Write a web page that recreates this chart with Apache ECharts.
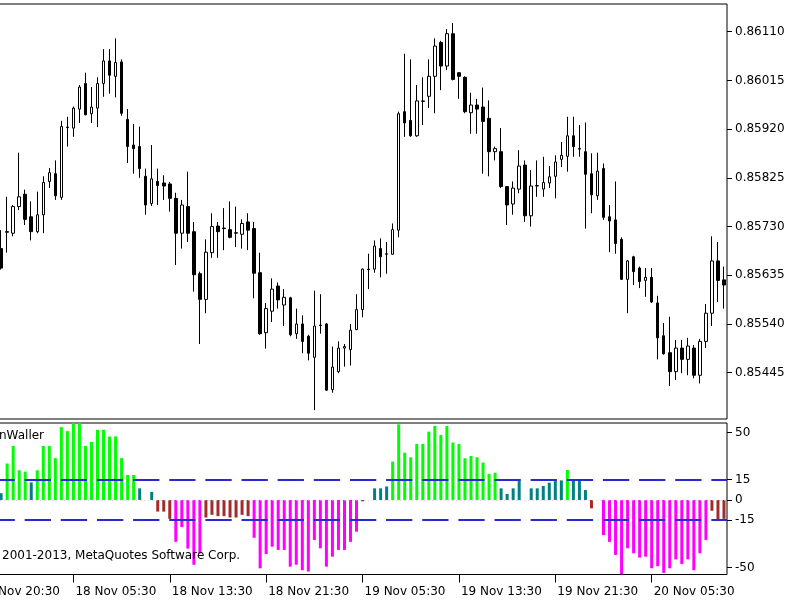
<!DOCTYPE html>
<html><head><meta charset="utf-8">
<script src="https://cdn.jsdelivr.net/npm/echarts@6/dist/echarts.min.js"></script>
<style>html,body{margin:0;padding:0;background:#fff}#c{width:800px;height:600px}</style>
</head><body><div id="c"></div>
<script>
// ---------- DATA ----------
const leadLabels = ['17 Nov 20:30','17 Nov 21:00','17 Nov 22:30','17 Nov 23:00'];
const firstBarMinutes = 23*60 + 30;   // 17 Nov 23:30, M30 bars
const barCount = 121;

const opens = [0.85687,0.85720,0.85717,0.85769,0.85793,0.85749,0.85720,0.85753,0.85818,0.85833,
0.85787,0.85924,0.85922,0.85959,0.86009,0.85950,0.85961,0.86009,0.86053,0.86023,
0.86051,0.85939,0.85889,0.85886,0.85828,0.85775,0.85818,0.85815,0.85813,0.85785,
0.85717,0.85769,0.85720,0.85638,0.85588,0.85679,0.85731,0.85727,0.85724,0.85717,
0.85715,0.85739,0.85726,0.85640,0.85523,0.85565,0.85614,0.85577,0.85591,0.85521,
0.85540,0.85516,0.85475,0.85538,0.85540,0.85412,0.85447,0.85493,0.85490,0.85529,
0.85568,0.85647,0.85647,0.85687,0.85676,0.85676,0.85723,0.85954,0.85937,0.85907,
0.85974,0.85984,0.86023,0.86089,0.86043,0.86106,0.86030,0.86021,0.85952,0.85967,
0.85963,0.85941,0.85876,0.85876,0.85808,0.85774,0.85803,0.85850,0.85751,0.85809,
0.85803,0.85815,0.85828,0.85861,0.85867,0.85907,0.85882,0.85876,0.85833,0.85790,
0.85843,0.85749,0.85743,0.85705,0.85627,0.85671,0.85649,0.85625,0.85631,0.85581,
0.85517,0.85484,0.85447,0.85493,0.85471,0.85493,0.85440,0.85506,0.85561,0.85663,0.85626];

const closes = [0.85649,0.85719,0.85769,0.85788,0.85744,0.85720,0.85753,0.85816,0.85835,0.85790,
0.85925,0.85923,0.85961,0.86002,0.85948,0.85963,0.86009,0.86053,0.86025,0.86050,
0.85951,0.85886,0.85882,0.85843,0.85772,0.85823,0.85810,0.85809,0.85785,0.85717,
0.85772,0.85717,0.85636,0.85588,0.85680,0.85730,0.85720,0.85726,0.85709,0.85718,
0.85736,0.85723,0.85639,0.85521,0.85570,0.85608,0.85587,0.85592,0.85519,0.85540,
0.85506,0.85483,0.85536,0.85537,0.85411,0.85456,0.85493,0.85496,0.85528,0.85568,
0.85647,0.85646,0.85692,0.85671,0.85677,0.85724,0.85950,0.85932,0.85907,0.85975,
0.85975,0.86023,0.86082,0.86043,0.86106,0.86017,0.86023,0.85954,0.85967,0.85959,
0.85935,0.85876,0.85882,0.85808,0.85772,0.85805,0.85848,0.85751,0.85809,0.85810,
0.85816,0.85827,0.85856,0.85869,0.85907,0.85886,0.85881,0.85832,0.85792,0.85838,
0.85748,0.85741,0.85697,0.85627,0.85663,0.85642,0.85623,0.85631,0.85583,0.85513,
0.85482,0.85447,0.85493,0.85471,0.85497,0.85440,0.85506,0.85561,0.85663,0.85625,0.85616];

const lows = [0.85646,0.85679,0.85711,0.85762,0.85733,0.85703,0.85717,0.85717,0.85805,0.85782,
0.85782,0.85886,0.85905,0.85932,0.85947,0.85932,0.85924,0.85983,0.85989,0.85982,
0.85946,0.85854,0.85833,0.85825,0.85753,0.85770,0.85772,0.85782,0.85759,0.85655,
0.85687,0.85700,0.85603,0.85501,0.85561,0.85669,0.85669,0.85684,0.85707,0.85690,
0.85687,0.85684,0.85590,0.85519,0.85492,0.85544,0.85570,0.85536,0.85516,0.85511,
0.85483,0.85469,0.85372,0.85521,0.85410,0.85406,0.85444,0.85457,0.85459,0.85528,
0.85553,0.85608,0.85640,0.85631,0.85638,0.85675,0.85709,0.85905,0.85905,0.85905,
0.85928,0.85961,0.85951,0.85996,0.86035,0.86015,0.85979,0.85951,0.85911,0.85911,
0.85833,0.85828,0.85859,0.85805,0.85733,0.85753,0.85795,0.85739,0.85730,0.85788,
0.85788,0.85805,0.85785,0.85846,0.85837,0.85866,0.85866,0.85726,0.85756,0.85782,
0.85743,0.85680,0.85677,0.85626,0.85561,0.85616,0.85610,0.85593,0.85581,0.85471,
0.85480,0.85419,0.85431,0.85444,0.85440,0.85434,0.85424,0.85493,0.85536,0.85583,0.85570];

const highs = [0.85723,0.85788,0.85772,0.85874,0.85802,0.85779,0.85798,0.85828,0.85844,0.85859,
0.85936,0.85944,0.85964,0.86006,0.86030,0.86002,0.86021,0.86076,0.86076,0.86097,
0.86056,0.85959,0.85930,0.85925,0.85843,0.85889,0.85843,0.85830,0.85817,0.85796,
0.85782,0.85837,0.85739,0.85642,0.85705,0.85756,0.85739,0.85766,0.85779,0.85769,
0.85744,0.85756,0.85739,0.85679,0.85581,0.85629,0.85621,0.85608,0.85593,0.85570,
0.85557,0.85519,0.85605,0.85598,0.85542,0.85496,0.85506,0.85501,0.85540,0.85598,
0.85648,0.85677,0.85703,0.85707,0.85700,0.85736,0.85954,0.86067,0.86056,0.86006,
0.86021,0.86056,0.86097,0.86092,0.86115,0.86127,0.86031,0.86023,0.85991,0.85979,
0.86001,0.85976,0.85886,0.85922,0.85809,0.85818,0.85879,0.85859,0.85840,0.85859,
0.85866,0.85848,0.85869,0.85895,0.85944,0.85944,0.85928,0.85933,0.85873,0.85874,
0.85853,0.85772,0.85818,0.85709,0.85665,0.85673,0.85652,0.85649,0.85649,0.85595,
0.85542,0.85554,0.85509,0.85509,0.85513,0.85499,0.85511,0.85579,0.85711,0.85700,0.85652];

const oscValues = [5,27,40,22,21,13,22,40,40,31,
54,51,57,57,40,43,52,52,47,47,
31,18.5,18.5,8.6,0,6,-8.6,-8.6,-14,-31,
-20,-36,-48,-39.5,-13,-11,-12,-12,-13,-13,
-11,-12,-28,-50.6,-40,-34.6,-37,-37,-49.4,-48,
-52,-53,-29.6,-35.8,-49.4,-42,-37,-37,-31,-23.5,
-1,0,8.6,8.6,10,28.4,56,35,31.6,41.5,
41.5,50.6,54.8,48.1,54.8,42.5,41.5,30.9,32.6,31.6,
27.7,19.3,20.2,8.6,4.5,8.6,14,0,8.6,8.6,
10.4,12.8,14,14.5,22.2,14.5,14.5,7.4,-6.2,0,
-26,-31,-40.7,-55,-35.8,-39.5,-42.7,-42,-50.6,-49,
-54,-50.6,-44,-47.4,-44,-52,-39.5,-29.6,-8,-14.5,-14];

const priceTicks = [0.86110,0.86015,0.85920,0.85825,0.85730,0.85635,0.85540,0.85445];
const oscTicks = [50,15,0,-15,-50];
const levels = [15,-15];
const indicatorName = 'nWaller';
const copyrightText = '2001-2013, MetaQuotes Software Corp.';

// ---------- BUILD ----------
function fmtTime(m){
  const day = 17 + Math.floor(m/1440);
  const r = m % 1440;
  const hh = String(Math.floor(r/60)).padStart(2,'0');
  const mm = String(r%60).padStart(2,'0');
  return day + ' Nov ' + hh + ':' + mm;
}
const barTimes = [];
for (let i=0;i<barCount;i++) barTimes.push(fmtTime(firstBarMinutes + 30*i));
const categories = leadLabels.concat(barTimes);
const pad = leadLabels.map(()=>'-');

const candleData = pad.concat(opens.map((o,i)=>[o, closes[i], lows[i], highs[i]]));
function oscColor(v){
  if (v >= 15) return '#00ff00';
  if (v > 0) return '#008080';
  if (v > -15) return '#a52a2a';
  return '#ff00ff';
}
const oscData = pad.concat(oscValues.map(v=>({value:v, itemStyle:{color:oscColor(v)}})));

const FONT = 'DejaVu Sans';
const labelInt = (idx)=> idx % 16 === 0;
const txt = {fontSize:12, fontWeight:'normal', color:'#000', fontFamily:FONT};

const chart = echarts.init(document.getElementById('c'), null, {renderer:'canvas'});
chart.setOption({
  animation:false,
  backgroundColor:'#fff',
  textStyle:{fontFamily:FONT},
  title:[
    {text:indicatorName, left:-1, top:430, padding:0, textStyle:txt},
    {text:copyrightText, left:2, top:550, padding:0, textStyle:txt}
  ],
  grid:[
    {left:-26, right:73, top:4, height:415, show:true, borderColor:'#000', borderWidth:1,
     containLabel:false, outerBoundsMode:'none'},
    {left:-26, right:73, top:423, height:151.5, show:true, borderColor:'#000', borderWidth:1,
     containLabel:false, outerBoundsMode:'none'}
  ],
  xAxis:[
    {type:'category', gridIndex:0, data:categories, boundaryGap:true,
     axisLine:{show:false, onZero:false}, axisTick:{show:false}, axisLabel:{show:false}, splitLine:{show:false}},
    {type:'category', gridIndex:1, data:categories, boundaryGap:true, position:'bottom',
     axisLine:{show:false, onZero:false},
     axisTick:{show:true, interval:labelInt, alignWithLabel:true, length:8, lineStyle:{color:'#000', width:1}},
     axisLabel:{interval:labelInt, align:'left', margin:11, padding:[0,0,0,2], fontSize:12, color:'#000', fontFamily:FONT},
     splitLine:{show:false}}
  ],
  yAxis:[
    {type:'value', gridIndex:0, position:'right', min:0.853547, max:0.86164,
     splitLine:{show:false}, axisLine:{show:false},
     axisTick:{show:true, length:5, customValues:priceTicks, lineStyle:{color:'#000'}},
     axisLabel:{customValues:priceTicks, formatter:v=>v.toFixed(5), margin:8, fontSize:12, color:'#000', fontFamily:FONT}},
    {type:'value', gridIndex:1, position:'right', min:-55.2, max:57,
     splitLine:{show:false}, axisLine:{show:false},
     axisTick:{show:true, length:5, customValues:oscTicks, lineStyle:{color:'#000'}},
     axisLabel:{customValues:oscTicks, formatter:v=>String(v), margin:8, fontSize:12, color:'#000', fontFamily:FONT}}
  ],
  series:[
    {type:'candlestick', xAxisIndex:0, yAxisIndex:0, data:candleData, barWidth:3,
     itemStyle:{color:'#fff', color0:'#000', borderColor:'#000', borderColor0:'#000', borderColorDoji:'#000', borderWidth:1}},
    {type:'bar', xAxisIndex:1, yAxisIndex:1, data:oscData, barWidth:3,
     markLine:{silent:true, symbol:'none', label:{show:false},
       data:[
         {yAxis:0, lineStyle:{color:'#c8c8c8', width:1, type:[1,3]}},
         ...levels.map(l=>({yAxis:l}))
       ],
       lineStyle:{color:'#2a2ad4', width:2, type:[26.3,9.84], dashOffset:21.6}}}
  ]
});
</script>
</body></html>
